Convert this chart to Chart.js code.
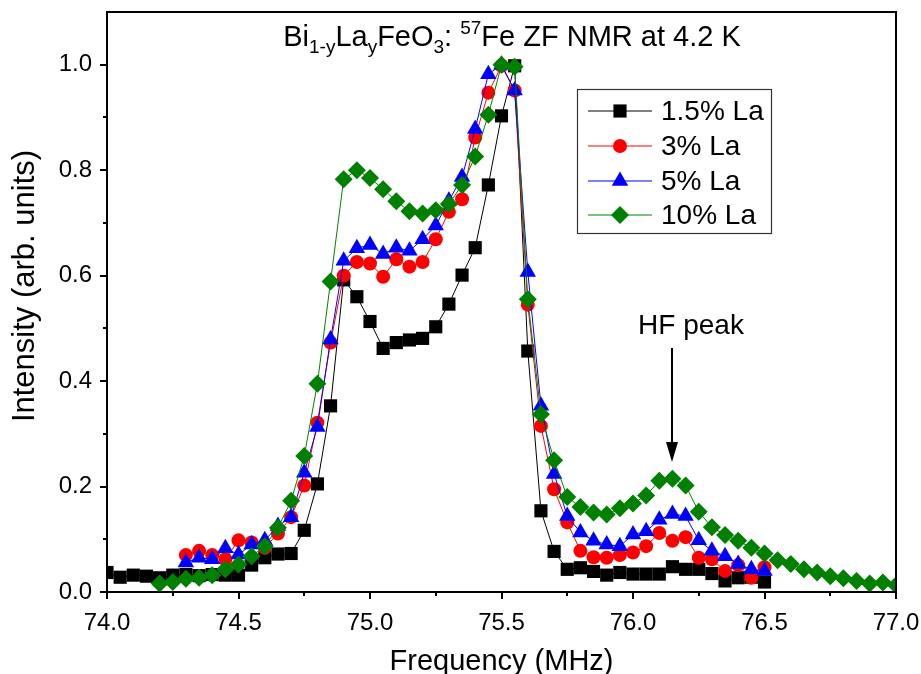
<!DOCTYPE html>
<html>
<head>
<meta charset="utf-8">
<script src="https://cdn.jsdelivr.net/npm/chart.js@4.4.1/dist/chart.umd.min.js"></script>
<style>
  html, body { margin: 0; padding: 0; background: #fff; }
  #wrap { position: relative; width: 921px; height: 674px; }
</style>
</head>
<body>
<div id="wrap"><canvas id="c" width="921" height="674"></canvas></div>
<script>
// ---- data ----
const freqBlack = [74.00,74.05,74.10,74.15,74.20,74.25,74.30,74.35,74.40,74.45,74.50,74.55,74.60,74.65,74.70,74.75,74.80,74.85,74.90,74.95,75.00,75.05,75.10,75.15,75.20,75.25,75.30,75.35,75.40,75.45,75.50,75.55,75.60,75.65,75.70,75.75,75.80,75.85,75.90,75.95,76.00,76.05,76.10,76.15,76.20,76.25,76.30,76.35,76.40,76.45,76.50];
const la15 = [0.037,0.028,0.032,0.030,0.027,0.032,0.033,0.031,0.033,0.032,0.032,0.051,0.065,0.072,0.073,0.117,0.205,0.353,0.592,0.560,0.513,0.462,0.473,0.478,0.481,0.503,0.546,0.601,0.653,0.772,0.903,0.998,0.457,0.154,0.077,0.043,0.046,0.039,0.032,0.037,0.034,0.034,0.034,0.048,0.043,0.043,0.035,0.021,0.027,0.028,0.019];

const freqRedBlue = [74.30,74.35,74.40,74.45,74.50,74.55,74.60,74.65,74.70,74.75,74.80,74.85,74.90,74.95,75.00,75.05,75.10,75.15,75.20,75.25,75.30,75.35,75.40,75.45,75.50,75.55,75.60,75.65,75.70,75.75,75.80,75.85,75.90,75.95,76.00,76.05,76.10,76.15,76.20,76.25,76.30,76.35,76.40,76.45,76.50];
const la3 = [0.070,0.078,0.070,0.062,0.098,0.094,0.084,0.111,0.142,0.202,0.321,0.473,0.600,0.626,0.623,0.598,0.631,0.617,0.626,0.669,0.721,0.745,0.862,0.947,0.998,0.951,0.545,0.315,0.195,0.132,0.078,0.066,0.065,0.070,0.075,0.087,0.112,0.097,0.104,0.065,0.062,0.040,0.051,0.027,0.047];
const la5 = [0.056,0.065,0.062,0.083,0.071,0.090,0.098,0.125,0.142,0.226,0.313,0.479,0.628,0.652,0.658,0.641,0.653,0.647,0.669,0.695,0.742,0.787,0.878,0.982,1.000,0.951,0.607,0.353,0.224,0.144,0.113,0.097,0.090,0.087,0.109,0.115,0.137,0.148,0.144,0.098,0.078,0.068,0.053,0.043,0.040];

const freqGreen = [74.20,74.25,74.30,74.35,74.40,74.45,74.50,74.55,74.60,74.65,74.70,74.75,74.80,74.85,74.90,74.95,75.00,75.05,75.10,75.15,75.20,75.25,75.30,75.35,75.40,75.45,75.50,75.55,75.60,75.65,75.70,75.75,75.80,75.85,75.90,75.95,76.00,76.05,76.10,76.15,76.20,76.25,76.30,76.35,76.40,76.45,76.50,76.55,76.60,76.65,76.70,76.75,76.80,76.85,76.90,76.95,77.00];
const la10 = [0.016,0.019,0.025,0.027,0.032,0.043,0.052,0.068,0.087,0.122,0.173,0.258,0.395,0.589,0.783,0.800,0.785,0.764,0.741,0.722,0.718,0.724,0.736,0.772,0.826,0.905,1.000,0.996,0.555,0.337,0.250,0.180,0.161,0.151,0.147,0.159,0.168,0.183,0.211,0.215,0.202,0.152,0.123,0.108,0.097,0.084,0.073,0.060,0.053,0.043,0.037,0.030,0.026,0.021,0.016,0.018,0.013];

const seriesLabels = ['1.5% La', '3% La', '5% La', '10% La'];
const xMajorTicks = [74.0, 74.5, 75.0, 75.5, 76.0, 76.5, 77.0];
const xMinorTicks = [74.25, 74.75, 75.25, 75.75, 76.25, 76.75];
const yMajorTicks = [0.0, 0.2, 0.4, 0.6, 0.8, 1.0];
const yMinorTicks = [0.1, 0.3, 0.5, 0.7, 0.9];
const titleParts = [['Bi','n'],['1-y','sub'],['La','n'],['y','sub'],['FeO','n'],['3','sub'],[': ','n'],['57','sup'],['Fe ZF NMR at 4.2 K','n']];
const yTitle = 'Intensity (arb. units)';
const xTitle = 'Frequency (MHz)';
const annotationText = 'HF peak';
const annotationX = 76.15;

// ---- chart ----
const FONT = '"Liberation Sans", Arial, sans-serif';
const pts = (xs, ys) => xs.map((x, i) => ({x: x, y: ys[i]}));

const styles = [
  {color: '#000000', line: '#000000', pointStyle: 'rect', radius: 9.3},
  {color: '#ff0000', line: '#ff0000', pointStyle: 'circle', radius: 7},
  {color: '#0000ff', line: '#0000ff', pointStyle: 'triangle', radius: 9.5},
  {color: '#008000', line: '#008000', pointStyle: 'rectRot', radius: 9}
];
const seriesData = [pts(freqBlack, la15), pts(freqRedBlue, la3), pts(freqRedBlue, la5), pts(freqGreen, la10)];

const datasets = seriesData.map((d, i) => ({
  label: seriesLabels[i],
  data: d,
  borderColor: styles[i].line,
  borderWidth: 1,
  backgroundColor: styles[i].color,
  pointStyle: styles[i].pointStyle,
  pointRadius: styles[i].radius,
  pointHoverRadius: styles[i].radius,
  pointBorderWidth: 0,
  pointBackgroundColor: styles[i].color,
  tension: 0,
  order: 3 - i
}));

const decorPlugin = {
  id: 'decor',
  afterDraw(chart) {
    const ctx = chart.ctx;
    const a = chart.chartArea;
    const xs = chart.scales.x, ys = chart.scales.y;
    ctx.save();
    // frame
    ctx.strokeStyle = '#000';
    ctx.lineWidth = 2;
    ctx.strokeRect(a.left, a.top, a.right - a.left, a.bottom - a.top);
    // minor ticks
    ctx.beginPath();
    xMinorTicks.forEach(v => {
      const px = Math.round(xs.getPixelForValue(v));
      ctx.moveTo(px, a.bottom); ctx.lineTo(px, a.bottom + 4);
    });
    yMinorTicks.forEach(v => {
      const py = Math.round(ys.getPixelForValue(v));
      ctx.moveTo(a.left, py); ctx.lineTo(a.left - 4, py);
    });
    ctx.stroke();

    ctx.fillStyle = '#000';
    // axis titles
    ctx.font = '29px ' + FONT;
    ctx.textAlign = 'center';
    ctx.textBaseline = 'alphabetic';
    ctx.fillText(xTitle, (a.left + a.right) / 2, 670);
    ctx.save();
    ctx.translate(34, 286);
    ctx.rotate(-Math.PI / 2);
    ctx.font = '31px ' + FONT;
    ctx.fillText(yTitle, 0, 0);
    ctx.restore();

    // title with sub/superscripts
    const mainFont = '29px ' + FONT, smallFont = '19px ' + FONT;
    let total = 0;
    titleParts.forEach(p => { ctx.font = p[1] === 'n' ? mainFont : smallFont; total += ctx.measureText(p[0]).width; });
    let tx = 512 - total / 2;
    const baseY = 46;
    ctx.textAlign = 'left';
    titleParts.forEach(p => {
      ctx.font = p[1] === 'n' ? mainFont : smallFont;
      const dy = p[1] === 'sub' ? 7 : (p[1] === 'sup' ? -12 : 0);
      ctx.fillText(p[0], tx, baseY + dy);
      tx += ctx.measureText(p[0]).width;
    });

    // legend
    const lx = 577, ly = 89, lw = 194, lh = 144;
    ctx.lineWidth = 1.2;
    ctx.strokeStyle = '#333';
    ctx.strokeRect(lx + 0.5, ly + 0.5, lw, lh);
    const rowY = [111, 146, 181, 215];
    chart.data.datasets.forEach((ds, i) => {
      const y = rowY[i];
      ctx.strokeStyle = ds.borderColor;
      ctx.lineWidth = 1;
      ctx.beginPath(); ctx.moveTo(588, y); ctx.lineTo(652, y); ctx.stroke();
      ctx.fillStyle = ds.pointBackgroundColor;
      Chart.helpers.drawPoint(ctx, {pointStyle: ds.pointStyle, radius: ds.pointRadius, rotation: 0, borderWidth: 0}, 620, y);
      ctx.fillStyle = '#000';
      ctx.font = '28px ' + FONT;
      ctx.textBaseline = 'middle';
      ctx.textAlign = 'left';
      ctx.fillText(ds.label, 661, y + 1);
    });

    // HF peak annotation
    const ax = Math.round(xs.getPixelForValue(annotationX));
    ctx.font = '28px ' + FONT;
    ctx.textAlign = 'center';
    ctx.textBaseline = 'alphabetic';
    ctx.fillStyle = '#000';
    ctx.fillText(annotationText, ax + 19, 334);
    ctx.strokeStyle = '#000';
    ctx.lineWidth = 2;
    ctx.beginPath(); ctx.moveTo(ax, 348); ctx.lineTo(ax, 446); ctx.stroke();
    ctx.beginPath();
    ctx.moveTo(ax - 6, 442); ctx.lineTo(ax + 6, 442); ctx.lineTo(ax, 462); ctx.closePath();
    ctx.fill();
    ctx.restore();
  }
};

new Chart(document.getElementById('c'), {
  type: 'line',
  data: { datasets: datasets },
  options: {
    responsive: false,
    animation: false,
    layout: { padding: { top: 12, right: 25, left: 0, bottom: 0 } },
    plugins: { legend: { display: false }, tooltip: { enabled: false }, title: { display: false } },
    scales: {
      x: {
        type: 'linear',
        min: 74, max: 77,
        afterBuildTicks: axis => { axis.ticks = xMajorTicks.map(v => ({value: v})); },
        afterFit: s => { s.height = 82; s.paddingLeft = 0; s.paddingRight = 0; },
        ticks: { color: '#000', font: { family: FONT, size: 24 }, padding: 10, maxRotation: 0, autoSkip: false,
                 callback: v => Number(v).toFixed(1) },
        grid: { display: true, drawOnChartArea: false, drawTicks: true, tickLength: 7, color: '#000', lineWidth: 2 },
        border: { display: true, color: '#000', width: 2 },
        title: { display: false }
      },
      y: {
        type: 'linear',
        min: 0, max: 1.1,
        afterBuildTicks: axis => { axis.ticks = yMajorTicks.map(v => ({value: v})); },
        afterFit: s => { s.width = 107; s.paddingTop = 0; s.paddingBottom = 0; },
        ticks: { color: '#000', font: { family: FONT, size: 24 }, padding: 8, autoSkip: false,
                 callback: v => Number(v).toFixed(1) },
        grid: { display: true, drawOnChartArea: false, drawTicks: true, tickLength: 7, color: '#000', lineWidth: 2 },
        border: { display: true, color: '#000', width: 2 },
        title: { display: false }
      }
    }
  },
  plugins: [decorPlugin]
});
</script>
</body>
</html>
